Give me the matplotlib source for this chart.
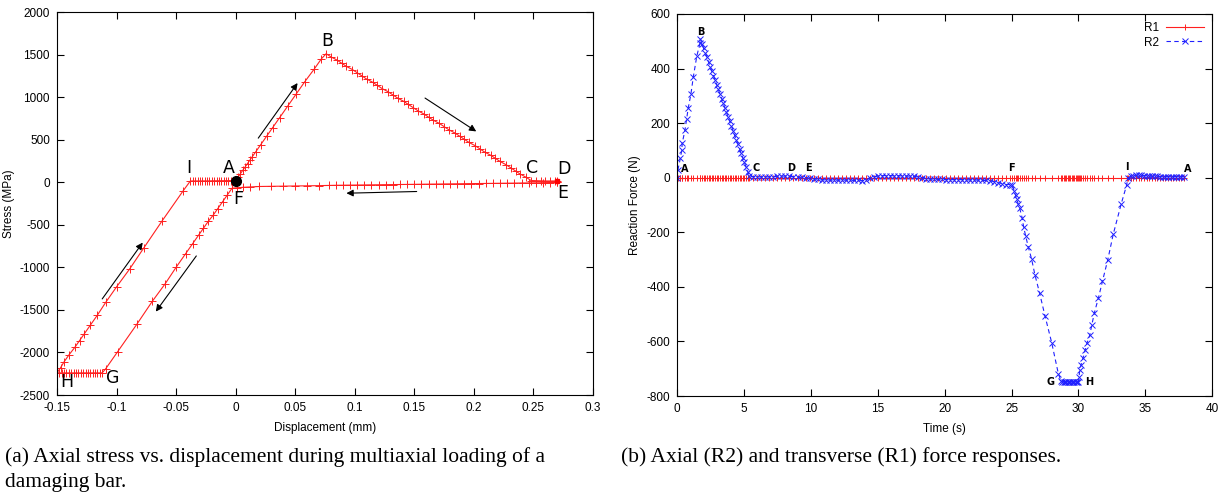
import matplotlib
matplotlib.use("Agg")
import matplotlib.pyplot as plt

plt.rcParams["axes.unicode_minus"] = False

# ---- panel (a): stress vs displacement ----
ab_x = [0.000, 0.002, 0.004, 0.006, 0.008, 0.010, 0.012, 0.014, 0.017, 0.021,
        0.026, 0.031, 0.037, 0.044, 0.051, 0.058, 0.066, 0.072, 0.076]
ab_y = [20, 60, 100, 140, 180, 220, 260, 300, 360, 440,
        540, 640, 760, 900, 1040, 1180, 1330, 1450, 1510]

bc_x = [0.080, 0.085, 0.089, 0.093, 0.098, 0.102, 0.106, 0.110, 0.115, 0.119,
        0.123, 0.128, 0.132, 0.136, 0.141, 0.145, 0.149, 0.153, 0.158, 0.162,
        0.166, 0.171, 0.175, 0.179, 0.184, 0.188, 0.192, 0.196, 0.201, 0.205,
        0.209, 0.214, 0.218, 0.222, 0.227, 0.231, 0.235, 0.239, 0.244, 0.248]
bc_y = [1473, 1436, 1398, 1361, 1324, 1287, 1249, 1212, 1175, 1138,
        1100, 1063, 1026, 989, 951, 914, 877, 840, 802, 765,
        728, 691, 653, 616, 579, 542, 504, 467, 430, 393,
        355, 318, 281, 244, 206, 169, 132, 95, 57, 20]

cd_x = [0.252, 0.256, 0.260, 0.264, 0.268, 0.270, 0.270]
cd_y = [18, 16, 15, 15, 15, 12, 5]

ef_x = [0.270, 0.264, 0.258, 0.252, 0.246, 0.240, 0.234, 0.228, 0.222, 0.216,
        0.210, 0.204, 0.198, 0.192, 0.186, 0.180, 0.174, 0.168, 0.162, 0.156,
        0.150, 0.144, 0.138, 0.132, 0.126, 0.120, 0.114, 0.108, 0.102, 0.096,
        0.090, 0.084, 0.078, 0.070, 0.060, 0.050, 0.040, 0.030, 0.020, 0.012,
        0.006, 0.001, -0.003]
ef_y = [-2, -4, -5, -7, -8, -9, -10, -11, -12, -13,
        -14, -15, -16, -17, -18, -19, -20, -21, -22, -23,
        -24, -25, -26, -27, -28, -29, -30, -31, -32, -33,
        -34, -36, -38, -40, -42, -44, -46, -48, -50, -55,
        -60, -65, -70]

fg_x = [-0.007, -0.011, -0.015, -0.019, -0.023, -0.027, -0.031, -0.036, -0.042,
        -0.050, -0.059, -0.070, -0.083, -0.099, -0.109, -0.112]
fg_y = [-150, -230, -310, -390, -460, -540, -620, -720, -840,
        -1000, -1190, -1400, -1670, -1990, -2190, -2240]

gh_x = [-0.114, -0.116, -0.118, -0.120, -0.122, -0.124, -0.126, -0.128, -0.130,
        -0.132, -0.134, -0.136, -0.138, -0.140, -0.142, -0.144, -0.146, -0.148, -0.150]
gh_y = [-2240] * len(gh_x)

hi_x = [-0.147, -0.144, -0.140, -0.135, -0.131, -0.127, -0.122, -0.116,
        -0.109, -0.100, -0.089, -0.077, -0.062, -0.044, -0.038]
hi_y = [-2180, -2110, -2030, -1940, -1860, -1780, -1680, -1560,
        -1410, -1230, -1020, -770, -460, -100, 15]

ia_x = [-0.036, -0.034, -0.032, -0.030, -0.028, -0.026, -0.024, -0.022, -0.020,
        -0.018, -0.016, -0.014, -0.012, -0.010, -0.008, -0.006, -0.004, -0.002, 0.000]
ia_y = [15, 15, 15, 15, 16, 16, 16, 16, 17, 17, 17, 18, 18, 18, 19, 19, 19, 20, 20]

disp = ab_x + bc_x + cd_x + ef_x + fg_x + gh_x + hi_x + ia_x
stress = ab_y + bc_y + cd_y + ef_y + fg_y + gh_y + hi_y + ia_y

point_labels_a = ["B", "I", "A", "C", "D", "E", "F", "H", "G"]
point_pos_a = [(0.0765, 1655), (-0.039, 165), (-0.006, 165), (0.249, 165), (0.276, 160),
               (0.275, -125), (0.002, -200), (-0.142, -2350), (-0.103, -2300)]

arrows_a = [((0.019, 518), (0.052, 1165)),
            ((0.159, 989), (0.202, 597)),
            ((0.152, -109), (0.093, -129)),
            ((-0.033, -866), (-0.067, -1520)),
            ((-0.112, -1371), (-0.078, -709))]

# ---- panel (b): reaction forces vs time ----
t_ab = [0.0, 0.06, 0.24, 0.35, 0.38, 0.59, 0.71, 0.83, 1.03, 1.21, 1.47, 1.71, 1.74]
r2_ab = [0, 29, 71, 102, 126, 175, 214, 255, 306, 369, 445, 494, 508]

t_bc = [1.86, 1.98, 2.11, 2.23, 2.35, 2.47, 2.59, 2.72, 2.84, 2.96,
        3.08, 3.20, 3.33, 3.45, 3.57, 3.69, 3.81, 3.94, 4.06, 4.18,
        4.30, 4.42, 4.55, 4.67, 4.79, 4.91, 5.03, 5.16, 5.28, 5.40]
r2_bc = [491, 474, 458, 441, 424, 407, 391, 374, 357, 340,
         324, 307, 290, 273, 257, 240, 223, 206, 190, 173,
         156, 139, 123, 106, 89, 72, 56, 39, 22, 5]

t_cf = [5.7, 6.0, 6.3, 6.6, 6.9, 7.2, 7.5, 7.8, 8.1, 8.4,
        8.7, 9.0, 9.3, 9.6, 9.9, 10.2, 10.5, 10.8, 11.1, 11.4,
        11.7, 12.0, 12.3, 12.6, 12.9, 13.2, 13.5, 13.8, 14.1, 14.4,
        14.7, 15.0, 15.3, 15.6, 15.9, 16.2, 16.5, 16.8, 17.1, 17.4,
        17.7, 18.0, 18.3, 18.6, 18.9, 19.2, 19.5, 19.8, 20.1, 20.4,
        20.7, 21.0, 21.3, 21.6, 21.9, 22.2, 22.5, 22.8, 23.1, 23.4,
        23.7, 24.0, 24.3, 24.6, 24.9]
r2_cf = [4, 3, 3, 3, 3, 4, 5, 6, 6, 5,
         4, 2, 1, 0, -2, -4, -6, -8, -8, -9,
         -9, -9, -9, -9, -9, -10, -10, -11, -8, -2,
         3, 6, 7, 8, 8, 7, 7, 7, 6, 6,
         5, 3, 0, -3, -5, -6, -6, -6, -7, -7,
         -7, -7, -7, -8, -8, -8, -9, -10, -10, -12,
         -14, -18, -22, -25, -25]

t_fg = [25.07, 25.2, 25.3, 25.4, 25.5, 25.6, 25.8, 25.9, 26.05, 26.25,
        26.5, 26.75, 27.1, 27.5, 28.0, 28.5, 28.7]
r2_fg = [-27, -49, -64, -79, -97, -110, -148, -179, -212, -253,
         -298, -356, -423, -506, -604, -718, -745]

t_gh = [28.8, 28.9, 29.0, 29.1, 29.2, 29.3, 29.4, 29.5, 29.6, 29.7, 29.8, 29.9, 30.0]
r2_gh = [-748] * len(t_gh)

t_hi = [30.05, 30.1, 30.2, 30.35, 30.5, 30.65, 30.85, 31.0, 31.2, 31.5,
        31.8, 32.2, 32.6, 33.2, 33.6, 33.7]
r2_hi = [-730, -705, -685, -660, -632, -605, -577, -540, -494, -440,
         -379, -300, -208, -96, -28, -2]

t_ia = [33.9, 34.1, 34.3, 34.5, 34.7, 34.9, 35.1, 35.3, 35.5, 35.7,
        35.9, 36.1, 36.3, 36.5, 36.7, 36.9, 37.1, 37.3, 37.5, 37.7, 37.9]
r2_ia = [6, 8, 9, 9, 9, 8, 7, 6, 5, 5, 5, 4, 4, 4, 4, 4, 4, 4, 4, 4, 4]

time = t_ab + t_bc + t_cf + t_fg + t_gh + t_hi + t_ia
r2 = r2_ab + r2_bc + r2_cf + r2_fg + r2_gh + r2_hi + r2_ia
r1 = [0] * len(time)  # transverse force stays at zero

point_labels_b = ["A", "B", "C", "D", "E", "F", "I", "A", "G", "H"]
point_pos_b = [(0.6, 31), (1.74, 534), (5.9, 37), (8.5, 37), (9.8, 37),
               (25.0, 37), (33.6, 41), (38.2, 31), (27.9, -749), (30.8, -749)]

# ---- figure ----
fig = plt.figure(figsize=(12.3, 4.96), dpi=100)
ax1 = fig.add_axes([0.0463, 0.2036, 0.4358, 0.7722])
ax2 = fig.add_axes([0.5505, 0.2016, 0.4350, 0.7702])

tick_font = dict(family="Liberation Sans", size=8.5)

ax1.plot(disp, stress, color="#ff2020", lw=0.8, marker="+", ms=5.5, mew=0.7)
ax1.plot([0], [20], "o", color="black", ms=7)
ax1.plot([0.27], [12], "s", color="#ff0000", ms=3.5)
for lab, (x, y) in zip(point_labels_a, point_pos_a):
    ax1.text(x, y, lab, fontsize=12.5, ha="center", va="center", family="DejaVu Sans")
for (x0, y0), (x1, y1) in arrows_a:
    ax1.annotate("", xy=(x1, y1), xytext=(x0, y0),
                 arrowprops=dict(arrowstyle="-|>", color="black", lw=0.8,
                                 mutation_scale=10, shrinkA=0, shrinkB=0))
ax1.set_xlim(-0.15, 0.3)
ax1.set_ylim(-2500, 2000)
ax1.set_xticks([-0.15, -0.1, -0.05, 0, 0.05, 0.1, 0.15, 0.2, 0.25, 0.3])
ax1.set_xticklabels(["-0.15", "-0.1", "-0.05", "0", "0.05", "0.1", "0.15", "0.2", "0.25", "0.3"])
ax1.set_yticks(range(-2500, 2001, 500))
ax1.set_xlabel("Displacement (mm)", fontdict=tick_font, labelpad=6)
ax1.set_ylabel("Stress (MPa)", fontdict=tick_font, labelpad=3)

ax2.plot(time, r1, color="#ff2020", lw=0.8, marker="+", ms=5, mew=0.7, label="R1")
ax2.plot(time, r2, color="#2020ff", lw=0.8, ls=(0, (4, 3)), marker="x", ms=4,
         mew=0.7, label="R2")
for lab, (x, y) in zip(point_labels_b, point_pos_b):
    ax2.text(x, y, lab, fontsize=7, fontweight="bold", ha="center", va="center",
             family="DejaVu Sans")
ax2.set_xlim(0, 40)
ax2.set_ylim(-800, 600)
ax2.set_xticks(range(0, 41, 5))
ax2.set_yticks(range(-800, 601, 200))
ax2.set_xlabel("Time (s)", fontdict=tick_font, labelpad=6)
ax2.set_ylabel("Reaction Force (N)", fontdict=tick_font, labelpad=4)
leg = ax2.legend(loc="upper right", frameon=False, markerfirst=False,
                 prop=dict(family="Liberation Sans", size=8.5), handlelength=3.2,
                 borderaxespad=0.3, labelspacing=0.2, handletextpad=0.6)

for ax in (ax1, ax2):
    ax.tick_params(direction="in", top=True, right=True, length=5, width=0.8,
                   labelsize=8.5, pad=5)
    for lbl in ax.get_xticklabels() + ax.get_yticklabels():
        lbl.set_family("Liberation Sans")
    for sp in ax.spines.values():
        sp.set_linewidth(0.8)

cap = dict(family="Liberation Serif", size=15.5, ha="left", va="center")
fig.text(0.004, 1 - 457 / 496, "(a) Axial stress vs. displacement during multiaxial loading of a", **cap)
fig.text(0.004, 1 - 482 / 496, "damaging bar.", **cap)
fig.text(0.505, 1 - 457 / 496, "(b) Axial (R2) and transverse (R1) force responses.", **cap)

fig.savefig("out.png", dpi=100)
